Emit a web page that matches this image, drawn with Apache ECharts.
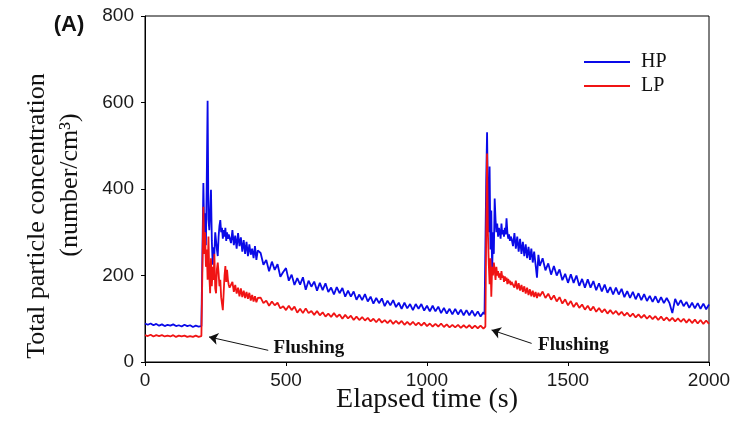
<!DOCTYPE html>
<html><head><meta charset="utf-8">
<script src="https://cdn.jsdelivr.net/npm/echarts/dist/echarts.min.js"></script>
<style>html,body{margin:0;padding:0;background:#fff}#c{width:746px;height:430px}</style>
</head><body><div id="c"></div>
<script>
// Elapsed time (s)
const time = [
0,10,20,30,40,50,60,70,80,90,100,110,120,130,140,150,160,170,180,190,200,
204,207,210,213,216,219,222,225,228,231,234,237,240,243,246,249,252,255,258,261,264,267,270,273,276,279,282,285,288,291,294,297,300,
305,310,315,320,325,330,335,340,345,350,355,360,365,370,375,380,385,390,395,400,
410,420,430,440,450,460,470,480,490,500,510,520,530,540,550,560,570,580,590,600,
610,620,630,640,650,660,670,680,690,700,710,720,730,740,750,760,770,780,790,800,
810,820,830,840,850,860,870,880,890,900,910,920,930,940,950,960,970,980,990,1000,
1010,1020,1030,1040,1050,1060,1070,1080,1090,1100,1110,1120,1130,1140,1150,1160,1170,1180,1190,1200,
1204,1207,1210,1213,1216,1219,1222,1225,1228,1231,1234,1237,1240,1243,1246,1249,1252,1255,1258,1261,1264,1267,1270,1273,1276,1279,1282,1285,1288,1291,1294,1297,1300,
1305,1310,1315,1320,1325,1330,1335,1340,1345,1350,1355,1360,1365,1370,1375,1380,1385,1390,1395,1400,
1410,1420,1430,1440,1450,1460,1470,1480,1490,1500,1510,1520,1530,1540,1550,1560,1570,1580,1590,1600,
1610,1620,1630,1640,1650,1660,1670,1680,1690,1700,1710,1720,1730,1740,1750,1760,1770,1780,1790,1800,
1810,1820,1830,1840,1850,1860,1870,1880,1890,1900,1910,1920,1930,1940,1950,1960,1970,1980,1990,2000
];
// HP total particle concentration (number/cm3)
const hp = [
89,86,89,85,88,84,87,83,86,84,87,83,85,82,86,83,85,81,84,82,83,
83,414,300,344,270,420,604,330,305,350,398,280,225,265,250,300,298,260,245,290,315,328,300,310,285,305,290,310,280,300,285,295,292,
275,305,270,292,262,298,268,288,255,282,250,278,245,272,248,262,240,268,236,258,
252,225,236,210,232,213,226,197,208,217,188,202,178,194,179,196,167,188,174,186,
165,183,166,182,162,172,156,173,159,171,151,165,151,163,144,156,143,157,140,151,
135,148,136,147,129,142,131,143,127,137,123,137,124,134,120,134,123,134,119,130,
117,130,117,128,113,125,112,123,110,123,110,121,108,120,108,119,106,117,105,115,
110,112,420,531,380,300,452,260,350,205,300,250,378,330,300,320,290,310,300,285,320,295,305,290,310,295,332,300,285,295,280,290,285,
268,298,262,290,255,285,250,278,245,272,240,266,236,262,230,255,225,195,248,222,
240,212,228,202,222,200,214,189,204,183,203,183,200,176,192,172,191,172,187,166,
182,163,179,160,173,156,172,156,169,150,164,148,162,145,159,143,157,141,153,139,
152,137,150,136,148,136,113,146,131,143,129,139,125,137,124,136,123,135,122,133
];
// LP total particle concentration (number/cm3)
const lp = [
62,60,63,59,62,60,62,59,61,59,62,58,61,59,61,58,60,58,61,58,60,
60,359,250,300,220,260,190,290,200,159,240,175,220,190,250,170,159,215,230,205,175,190,150,135,120,160,200,222,185,213,190,178,172,
172,185,162,178,158,172,152,170,150,165,148,162,146,160,142,155,140,152,138,148,
149,136,142,130,140,131,137,124,129,120,130,120,128,114,123,113,124,113,118,109,
118,108,115,105,112,104,113,104,110,100,109,101,107,97,105,97,104,96,102,94,
100,92,100,91,97,90,97,88,95,88,95,86,93,86,93,85,91,84,91,83,
89,82,88,82,89,81,87,80,86,80,86,79,85,79,85,78,84,78,84,77,
80,82,300,482,300,228,180,240,151,220,200,230,213,190,220,200,210,195,205,190,210,195,200,185,198,188,195,180,192,182,188,178,185,
185,172,188,168,182,165,178,162,175,158,172,155,168,152,165,150,162,148,160,152,
163,148,158,144,154,140,150,135,145,131,141,127,137,125,133,121,130,119,128,116,
125,115,122,112,120,111,118,109,116,107,114,105,112,103,110,102,109,100,107,99,
106,97,105,96,103,95,102,94,101,93,100,91,99,90,98,89,97,88,96,88
];
const seriesNames = ['HP', 'LP'];
const seriesColors = ['#0a0ae8', '#f01414'];
const xTickValues = [0, 500, 1000, 1500, 2000];
const yTickValues = [0, 200, 400, 600, 800];
// annotation arrows in data coordinates: tail, head, text anchor
const flushNotes = [
  {tail: [437, 27], head: [227, 58], text: [454, 32], label: 'Flushing'},
  {tail: [1371, 43], head: [1229, 74], text: [1392, 38], label: 'Flushing'}
];
if (time.length !== hp.length || time.length !== lp.length) {
  throw new Error('length mismatch ' + time.length + ' ' + hp.length + ' ' + lp.length);
}

const chart = echarts.init(document.getElementById('c'), null, {renderer: 'canvas'});
const tickFont = {fontFamily: 'Liberation Sans', fontSize: 19, color: '#1a1a1a', formatter: v => String(v)};
const pairs = arr => time.map((t, i) => [t, arr[i]]);

chart.setOption({
  animation: false,
  backgroundColor: '#fff',
  grid: {left: 145, right: 37, top: 16, bottom: 68, show: true, borderColor: '#000', borderWidth: 1, backgroundColor: 'transparent'},
  xAxis: {
    type: 'value', min: xTickValues[0], max: xTickValues[xTickValues.length - 1], interval: 500,
    axisLine: {show: true, lineStyle: {color: '#000', width: 1}},
    axisTick: {show: true, inside: false, length: 4, lineStyle: {color: '#000'}},
    axisLabel: Object.assign({margin: 9}, tickFont),
    splitLine: {show: false}
  },
  yAxis: {
    type: 'value', min: yTickValues[0], max: yTickValues[yTickValues.length - 1], interval: 200,
    axisLine: {show: true, lineStyle: {color: '#000', width: 1}},
    axisTick: {show: true, inside: false, length: 4, lineStyle: {color: '#000'}},
    axisLabel: Object.assign({margin: 11}, tickFont),
    splitLine: {show: false}
  },
  legend: {
    data: seriesNames.map(n => ({name: n, icon: 'rect'})),
    orient: 'vertical', left: 579, top: 47, itemWidth: 46, itemHeight: 2, itemGap: 4,
    textStyle: {fontFamily: 'Liberation Serif', fontSize: 20, color: '#111', padding: [0, 0, 0, 6]}
  },
  graphic: [
    {type: 'text', x: 69, y: 25, style: {text: '(A)', font: 'bold 22px "Liberation Sans"', fill: '#111', textAlign: 'center', textVerticalAlign: 'middle'}},
    {type: 'text', x: 37, y: 216, rotation: Math.PI / 2, style: {text: 'Total particle concentration', font: '26px "Liberation Serif"', fill: '#111', textAlign: 'center', textVerticalAlign: 'middle'}},
    {type: 'text', x: 70, y: 185, rotation: Math.PI / 2, style: {text: '(number/cm³)', font: '26px "Liberation Serif"', fill: '#111', textAlign: 'center', textVerticalAlign: 'middle'}},
    {type: 'text', x: 427, y: 400, style: {text: 'Elapsed time (s)', font: '28px "Liberation Serif"', fill: '#111', textAlign: 'center', textVerticalAlign: 'middle'}}
  ],
  series: [
    {name: seriesNames[0], type: 'line', data: pairs(hp), showSymbol: false, symbol: 'none',
     lineStyle: {color: seriesColors[0], width: 1.8}, itemStyle: {color: seriesColors[0]}},
    {name: seriesNames[1], type: 'line', data: pairs(lp), showSymbol: false, symbol: 'none',
     lineStyle: {color: seriesColors[1], width: 1.8}, itemStyle: {color: seriesColors[1]}},
    {name: 'notes', type: 'line', data: [], silent: true,
     markLine: {
       silent: true, symbol: ['none', 'arrow'], symbolSize: 9,
       lineStyle: {color: '#111', width: 1, type: 'solid'}, label: {show: false},
       data: flushNotes.map(n => [{coord: n.tail}, {coord: n.head}])
     },
     markPoint: {
       silent: true, symbol: 'circle', symbolSize: 1, itemStyle: {color: 'rgba(0,0,0,0)'},
       label: {show: true, position: 'right', distance: 0, fontFamily: 'Liberation Serif', fontWeight: 'bold', fontSize: 19, color: '#111'},
       data: flushNotes.map(n => ({coord: n.text, value: n.label, label: {formatter: n.label}}))
     }}
  ]
});
</script>
</body></html>
